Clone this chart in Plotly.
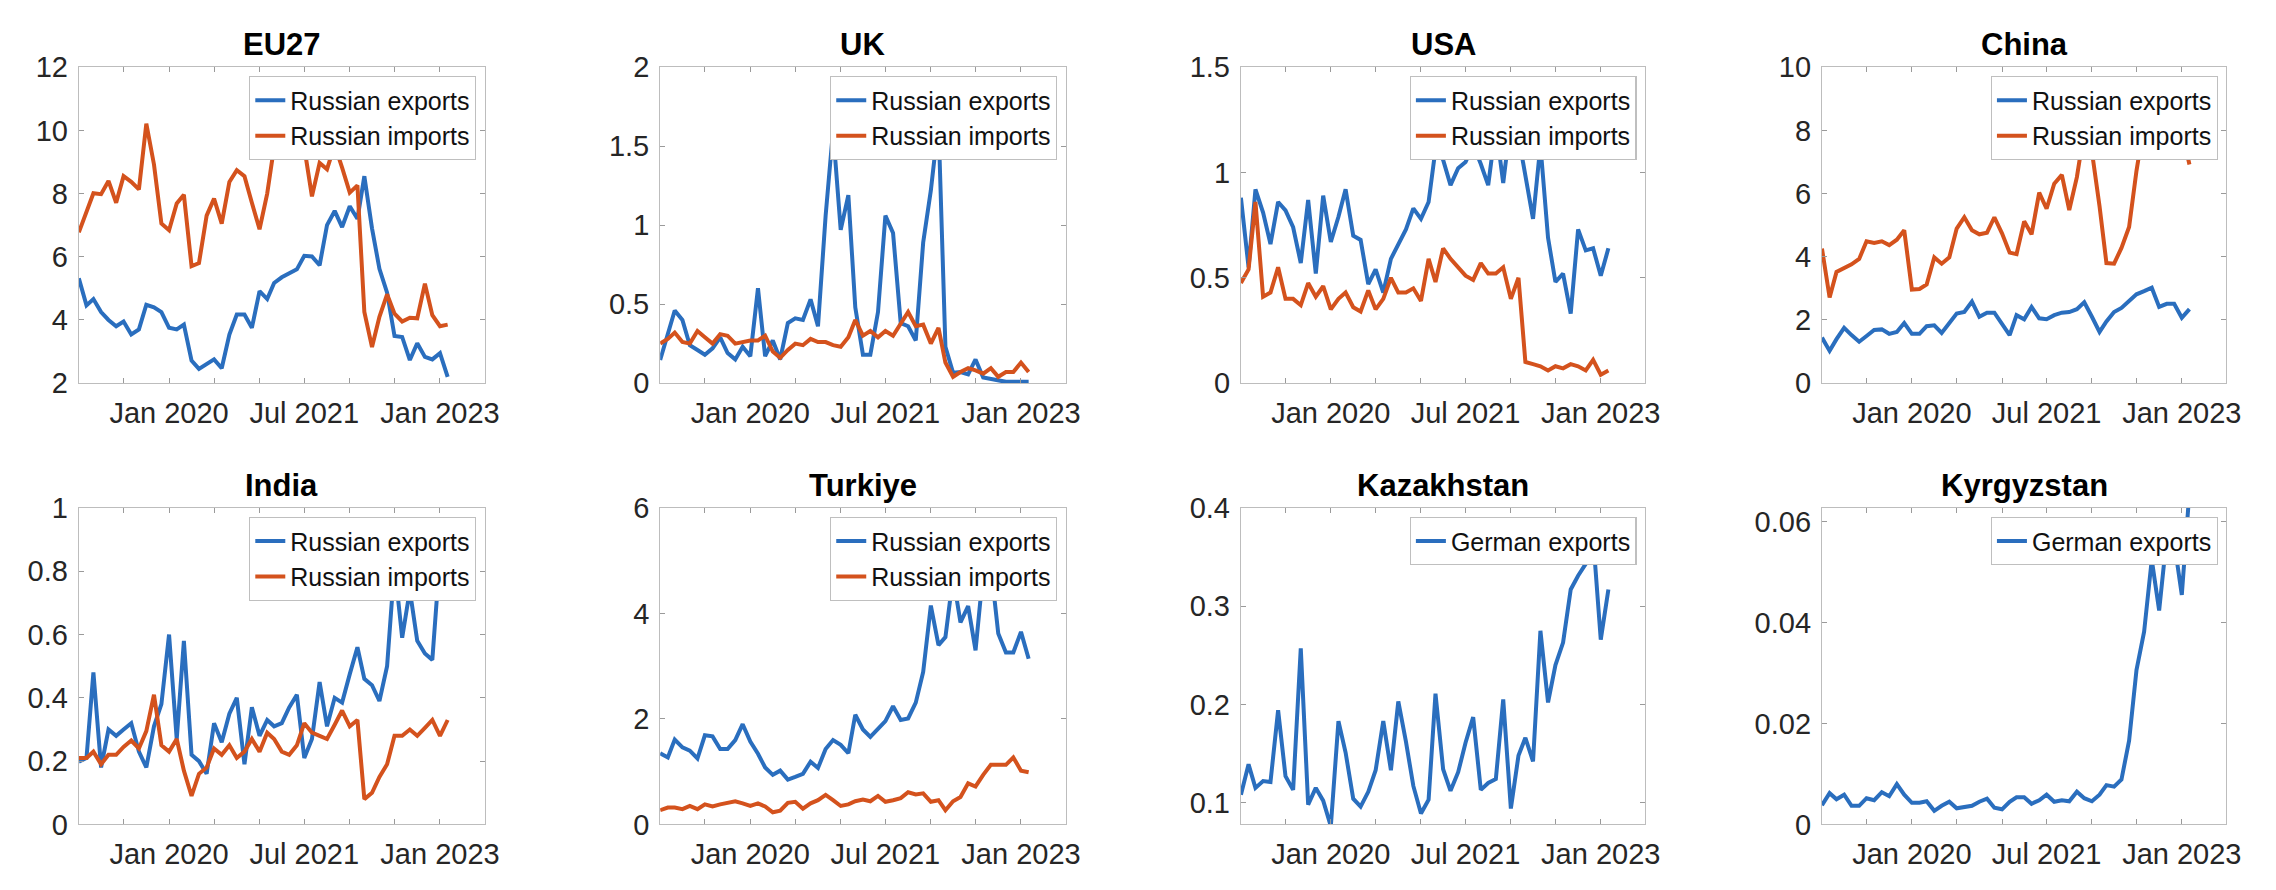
import pandas as pd
import plotly.graph_objects as go

# ---------------- data (monthly, Jan 2019 - Feb 2023) ----------------
months = pd.date_range("2019-01-01", periods=50, freq="MS")

eu_exp = [5.32,4.46,4.66,4.25,4.0,3.8,3.95,3.54,3.7,4.48,4.4,4.25,3.75,3.7,3.85,2.71,2.45,2.6,2.75,2.47,
          3.54,4.17,4.17,3.75,4.91,4.66,5.17,5.35,5.47,5.6,6.03,6.01,5.73,7.0,7.45,6.94,7.6,7.2,8.55,6.9,
          5.62,4.86,3.49,3.46,2.73,3.26,2.83,2.75,2.95,2.2]
eu_imp = [6.77,7.4,8.01,7.98,8.4,7.71,8.55,8.37,8.13,10.21,8.92,7.05,6.84,7.69,7.96,5.7,5.8,7.3,7.84,7.05,
          8.37,8.74,8.55,7.71,6.87,8.0,9.48,9.21,9.21,9.25,9.46,7.91,8.97,8.77,9.53,8.82,8.03,8.26,4.25,3.14,
          4.1,4.81,4.2,3.95,4.07,4.05,5.15,4.15,3.8,3.85]

uk_exp = [0.146,0.32,0.46,0.40,0.24,0.21,0.18,0.22,0.29,0.19,0.15,0.23,0.17,0.60,0.17,0.27,0.15,0.38,0.41,0.40,
          0.53,0.36,1.06,1.6,0.97,1.19,0.48,0.18,0.18,0.45,1.06,0.95,0.38,0.36,0.27,0.89,1.22,1.65,0.23,0.065,
          0.07,0.055,0.15,0.035,0.025,0.02,0.008,0.008,0.008,0.008]
uk_imp = [0.25,0.28,0.32,0.26,0.25,0.33,0.29,0.25,0.31,0.30,0.25,0.26,0.27,0.27,0.30,0.20,0.16,0.21,0.25,0.24,
          0.28,0.26,0.26,0.24,0.23,0.29,0.40,0.30,0.33,0.29,0.33,0.30,0.38,0.45,0.36,0.37,0.25,0.35,0.13,0.04,
          0.07,0.095,0.08,0.06,0.095,0.04,0.07,0.07,0.13,0.07]

usa_exp = [0.88,0.55,0.92,0.81,0.66,0.86,0.82,0.74,0.57,0.87,0.52,0.89,0.67,0.79,0.92,0.70,0.68,0.47,0.54,0.43,
           0.59,0.66,0.73,0.83,0.78,0.86,1.11,1.06,0.94,1.02,1.05,1.13,1.04,0.94,1.22,0.95,1.25,1.17,0.99,0.78,
           1.13,0.69,0.48,0.52,0.33,0.73,0.63,0.64,0.51,0.64]
usa_imp = [0.475,0.54,0.86,0.41,0.43,0.55,0.40,0.40,0.37,0.475,0.41,0.46,0.35,0.40,0.43,0.36,0.34,0.44,0.35,0.40,
           0.50,0.43,0.43,0.45,0.39,0.59,0.48,0.64,0.59,0.55,0.51,0.49,0.57,0.52,0.52,0.55,0.40,0.50,0.10,0.09,
           0.08,0.06,0.08,0.07,0.09,0.08,0.06,0.11,0.04,0.06]

china_exp = [1.44,1.02,1.39,1.75,1.52,1.31,1.49,1.68,1.70,1.56,1.62,1.90,1.56,1.56,1.80,1.83,1.59,1.90,2.20,2.25,
             2.58,2.10,2.23,2.23,1.90,1.52,2.15,2.02,2.41,2.05,2.02,2.15,2.23,2.25,2.34,2.56,2.10,1.62,1.95,2.25,
             2.38,2.61,2.81,2.91,3.02,2.41,2.51,2.51,2.07,2.34]
china_imp = [4.26,2.71,3.52,3.65,3.76,3.93,4.49,4.44,4.49,4.37,4.54,4.84,2.96,2.98,3.12,3.98,3.78,3.98,4.89,5.25,
             4.84,4.71,4.76,5.25,4.74,4.13,4.08,5.12,4.71,6.03,5.52,6.31,6.59,5.48,6.52,8.0,7.33,5.60,3.80,3.78,
             4.28,4.94,6.72,8.2,8.1,7.35,7.63,8.0,8.0,6.92]

india_exp = [0.198,0.21,0.48,0.18,0.30,0.28,0.30,0.32,0.23,0.18,0.31,0.38,0.60,0.27,0.58,0.22,0.20,0.16,0.32,0.26,
             0.35,0.40,0.19,0.37,0.28,0.33,0.31,0.32,0.37,0.41,0.21,0.27,0.45,0.31,0.40,0.385,0.475,0.56,0.46,0.44,
             0.39,0.50,0.82,0.59,0.74,0.58,0.54,0.52,0.85,0.9]
india_imp = [0.21,0.21,0.23,0.19,0.22,0.22,0.245,0.265,0.24,0.295,0.41,0.25,0.23,0.27,0.17,0.09,0.16,0.18,0.24,0.22,
             0.25,0.21,0.23,0.27,0.23,0.29,0.27,0.23,0.22,0.25,0.32,0.29,0.28,0.27,0.315,0.36,0.31,0.33,0.08,0.10,
             0.15,0.19,0.28,0.28,0.30,0.28,0.305,0.33,0.28,0.33]

tur_exp = [1.35,1.27,1.61,1.46,1.40,1.25,1.69,1.67,1.43,1.43,1.60,1.90,1.57,1.34,1.08,0.94,1.02,0.85,0.90,0.96,
           1.19,1.07,1.43,1.60,1.51,1.35,2.08,1.80,1.66,1.82,1.96,2.24,1.98,2.01,2.31,2.89,4.15,3.40,3.55,4.7,
           3.83,4.14,3.30,4.8,4.9,3.62,3.26,3.26,3.65,3.14]
tur_imp = [0.27,0.32,0.32,0.29,0.35,0.29,0.38,0.34,0.38,0.41,0.44,0.40,0.35,0.40,0.34,0.23,0.26,0.41,0.43,0.30,
           0.40,0.46,0.56,0.46,0.35,0.38,0.44,0.47,0.44,0.54,0.43,0.46,0.50,0.61,0.57,0.59,0.43,0.46,0.27,0.44,
           0.52,0.78,0.72,0.94,1.13,1.13,1.13,1.27,1.02,0.99]

kaz_exp = [0.108,0.139,0.115,0.122,0.121,0.194,0.127,0.113,0.257,0.098,0.115,0.102,0.076,0.183,0.151,0.104,0.096,
           0.111,0.133,0.183,0.133,0.203,0.162,0.117,0.089,0.103,0.211,0.134,0.112,0.131,0.161,0.187,0.113,0.120,
           0.124,0.205,0.094,0.148,0.166,0.142,0.275,0.202,0.240,0.263,0.317,0.331,0.343,0.37,0.266,0.317]

kyr_exp = [0.0038,0.0062,0.0050,0.0059,0.0037,0.0037,0.0052,0.0048,0.0064,0.0056,0.0080,0.0059,0.0043,0.0043,
           0.0046,0.0027,0.0037,0.0045,0.0032,0.0035,0.0037,0.0045,0.0051,0.0033,0.0030,0.0045,0.0054,0.0054,
           0.0041,0.0048,0.0059,0.0045,0.0048,0.0046,0.0065,0.0052,0.0046,0.0059,0.0078,0.0075,0.0089,0.0166,
           0.0306,0.0382,0.0525,0.0424,0.057,0.056,0.0455,0.066]

titles = ["EU27", "UK", "USA", "China", "India", "Turkiye", "Kazakhstan", "Kyrgyzstan"]
series = [
    [("Russian exports", eu_exp), ("Russian imports", eu_imp)],
    [("Russian exports", uk_exp), ("Russian imports", uk_imp)],
    [("Russian exports", usa_exp), ("Russian imports", usa_imp)],
    [("Russian exports", china_exp), ("Russian imports", china_imp)],
    [("Russian exports", india_exp), ("Russian imports", india_imp)],
    [("Russian exports", tur_exp), ("Russian imports", tur_imp)],
    [("German exports", kaz_exp)],
    [("German exports", kyr_exp)],
]
y_ranges = [[2, 12], [0, 2], [0, 1.5], [0, 10], [0, 1], [0, 6], [0.0778, 0.4], [0, 0.06274]]
y_ticks = [
    ([2, 4, 6, 8, 10, 12], ["2", "4", "6", "8", "10", "12"]),
    ([0, 0.5, 1, 1.5, 2], ["0", "0.5", "1", "1.5", "2"]),
    ([0, 0.5, 1, 1.5], ["0", "0.5", "1", "1.5"]),
    ([0, 2, 4, 6, 8, 10], ["0", "2", "4", "6", "8", "10"]),
    ([0, 0.2, 0.4, 0.6, 0.8, 1], ["0", "0.2", "0.4", "0.6", "0.8", "1"]),
    ([0, 2, 4, 6], ["0", "2", "4", "6"]),
    ([0.1, 0.2, 0.3, 0.4], ["0.1", "0.2", "0.3", "0.4"]),
    ([0, 0.02, 0.04, 0.06], ["0", "0.02", "0.04", "0.06"]),
]
x_tickvals = ["2019-07-01", "2020-01-01", "2020-07-01", "2021-01-01",
              "2021-07-01", "2022-01-01", "2022-07-01", "2023-01-01"]
x_ticktext = ["", "Jan 2020", "", "", "Jul 2021", "", "", "Jan 2023"]

# ---------------- styling / layout ----------------
W, H = 2276, 890
OFF = 8.0  # default page body margin offsets the figure by 8px
colors = ["#2A6EBE", "#D4521D"]
FONT = "Liberation Sans, Arial, Helvetica, sans-serif"
col_px = [(79.3, 487.9), (664.5, 1072.7), (1249.1, 1656.2), (1834.0, 2241.1)]
row_px = [(52.8, 380.5), (510.0, 838.3)]

fig = go.Figure()
layout = dict(width=W, height=H, margin=dict(l=0, r=0, t=0, b=0),
              paper_bgcolor="white", plot_bgcolor="white", showlegend=True,
              font=dict(family=FONT, color="#262626"))
annotations = []

for k in range(8):
    r, c = divmod(k, 4)
    x0, x1 = [v - OFF for v in col_px[c]]
    yt, yb = [v - OFF for v in row_px[r]]
    sfx = "" if k == 0 else str(k + 1)
    xa, ya = "x" + sfx, "y" + sfx
    leg = "legend" + sfx
    for j, (name, vals) in enumerate(series[k]):
        fig.add_trace(go.Scatter(x=months, y=vals, name=name, mode="lines",
                                 line=dict(color=colors[j], width=4),
                                 xaxis=xa, yaxis=ya, legend=leg))
    axis_common = dict(showline=True, linecolor="#bdbdbd", linewidth=1.2, mirror="ticks",
                       ticks="inside", ticklen=5, tickcolor="#9a9a9a", tickwidth=1,
                       showgrid=False, zeroline=False,
                       tickfont=dict(family=FONT, size=29, color="#262626"))
    layout["xaxis" + sfx] = dict(axis_common, domain=[x0 / W, x1 / W], anchor=ya,
                                 type="date", range=["2019-01-01", "2023-07-01"],
                                 tickmode="array", tickvals=x_tickvals, ticktext=x_ticktext,
                                 ticklabelstandoff=4)
    tv, tt = y_ticks[k]
    layout["yaxis" + sfx] = dict(axis_common, domain=[1 - yb / H, 1 - yt / H], anchor=xa,
                                 range=y_ranges[k], tickmode="array", tickvals=tv, ticktext=tt,
                                 ticklabelstandoff=4)
    layout[leg] = dict(x=(x1 - 8.7) / W, y=1 - (yt + 9.4) / H, xanchor="right", yanchor="top",
                       xref="paper", yref="paper",
                       bgcolor="white", bordercolor="#bfbfbf", borderwidth=1.2,
                       font=dict(family=FONT, size=25, color="#111111"),
                       itemwidth=30, tracegroupgap=0)
    annotations.append(dict(text="<b>" + titles[k] + "</b>", x=(x0 + x1) / 2 / W, y=1 - yt / H,
                            xref="paper", yref="paper", xanchor="center", yanchor="bottom",
                            yshift=3, showarrow=False,
                            font=dict(family=FONT, size=31, color="#000000")))

layout["annotations"] = annotations
fig.update_layout(**layout)
fig.write_html("out.html")
